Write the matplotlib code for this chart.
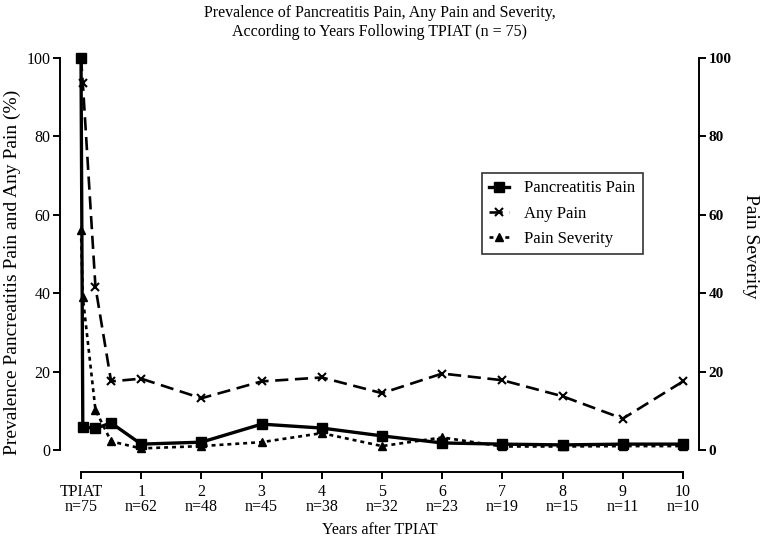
import matplotlib.pyplot as plt
import numpy as np

plt.rcParams['font.family'] = ['Liberation Serif', 'DejaVu Serif']

# Data (years after TPIAT; early points are 0, ~2 weeks, 3 months, 6 months)
Panc_X = [0, 0.03, 0.24, 0.5, 1, 2, 3, 4, 5, 6, 7, 8, 9, 10]
Panc_Pain = [100, 5.9, 5.5, 6.9, 1.5, 2.0, 6.6, 5.6, 3.6, 1.8, 1.5, 1.3, 1.5, 1.5]

Any_X = [0, 0.03, 0.24, 0.5, 1, 2, 3, 4, 5, 6, 7, 8, 9, 10]
Any_Pain = [100, 93.5, 41.6, 17.5, 18.2, 13.2, 17.5, 18.5, 14.5, 19.5, 17.8, 13.7, 8.0, 17.5]

Sev_X = [0, 0.03, 0.24, 0.5, 1, 2, 3, 4, 5, 6, 7, 8, 9, 10]
Severity = [56, 39, 10.2, 2.2, 0.4, 1.0, 2.0, 4.3, 1.0, 3.2, 0.9, 0.9, 1.0, 1.0]

Tick_Pos = [0, 1, 2, 3, 4, 5, 6, 7, 8, 9, 10]
Tick_Labels = ["TPIAT\nn=75", "1\nn=62", "2\nn=48", "3\nn=45", "4\nn=38", "5\nn=32",
               "6\nn=23", "7\nn=19", "8\nn=15", "9\nn=11", "10\nn=10"]

fig = plt.figure(figsize=(7.64, 5.4), dpi=100)
ax = fig.add_axes([60 / 764, 90 / 540, 639 / 764, 392 / 540])
ax2 = ax.twinx()

l1, = ax.plot(Panc_X, Panc_Pain, color='black', lw=2.4, marker='s', ms=6.5,
              label='Pancreatitis Pain', clip_on=False, zorder=3)
l2, = ax.plot(Any_X, Any_Pain, color='black', lw=1.9, ls=(0, (5, 2.5)), marker='x',
              ms=5.5, mew=1.5, label='Any Pain', clip_on=False)
l3, = ax2.plot(Sev_X, Severity, color='black', lw=1.9, ls=(0, (1.5, 1.5)), marker='^',
               ms=6, label='Pain Severity', clip_on=False)

ax.set_xlim(-0.349, 10.266)
ax.set_ylim(0, 100)
ax2.set_ylim(0, 100)

for a in (ax, ax2):
    a.spines['top'].set_visible(False)
    a.spines['bottom'].set_position(('outward', 15.8))
    a.spines['bottom'].set_bounds(0, 10)
    a.spines['bottom'].set_linewidth(1.4)
ax.spines['right'].set_visible(False)
ax2.spines['left'].set_visible(False)
ax2.spines['bottom'].set_visible(False)
ax.spines['left'].set_bounds(0, 100)
ax.spines['left'].set_linewidth(1.4)
ax2.spines['right'].set_bounds(0, 100)
ax2.spines['right'].set_linewidth(1.4)

ax.set_yticks([0, 20, 40, 60, 80, 100])
ax2.set_yticks([0, 20, 40, 60, 80, 100])
ax.set_xticks(Tick_Pos)
ax.set_xticklabels(Tick_Labels, fontsize=11.5, linespacing=0.95)
ax.tick_params(axis='both', direction='out', length=5, width=1.4, labelsize=11.5)
ax.tick_params(axis='y', pad=2)
ax2.tick_params(axis='y', direction='out', length=5, width=1.4, labelsize=11, pad=2)
for t in ax2.get_yticklabels():
    t.set_fontweight('bold')

ax.set_xlabel("Years after TPIAT", fontsize=11.5)
ax.xaxis.set_label_coords(0.5, -0.183)
ax.set_ylabel("Prevalence Pancreatitis Pain and Any Pain (%)", fontsize=14)
ax.yaxis.set_label_coords(-0.061, 0.454)
ax2.set_ylabel("Pain Severity", fontsize=14, rotation=270)
ax2.yaxis.set_label_coords(1.094, 0.52)
ax.set_title("Prevalence of Pancreatitis Pain, Any Pain and Severity,\n"
             "According to Years Following TPIAT (n = 75)", fontsize=11.5, pad=16)

leg = ax.legend(handles=[l1, l2, l3], loc='upper left', bbox_to_anchor=(0.66, 0.707),
                fontsize=12, frameon=True, fancybox=False, handlelength=1.2,
                handletextpad=0.9, borderpad=0.45, labelspacing=0.55, borderaxespad=0)
leg.get_frame().set_edgecolor('black')
leg.get_frame().set_linewidth(1.2)

fig.savefig('out.png', dpi=100)
